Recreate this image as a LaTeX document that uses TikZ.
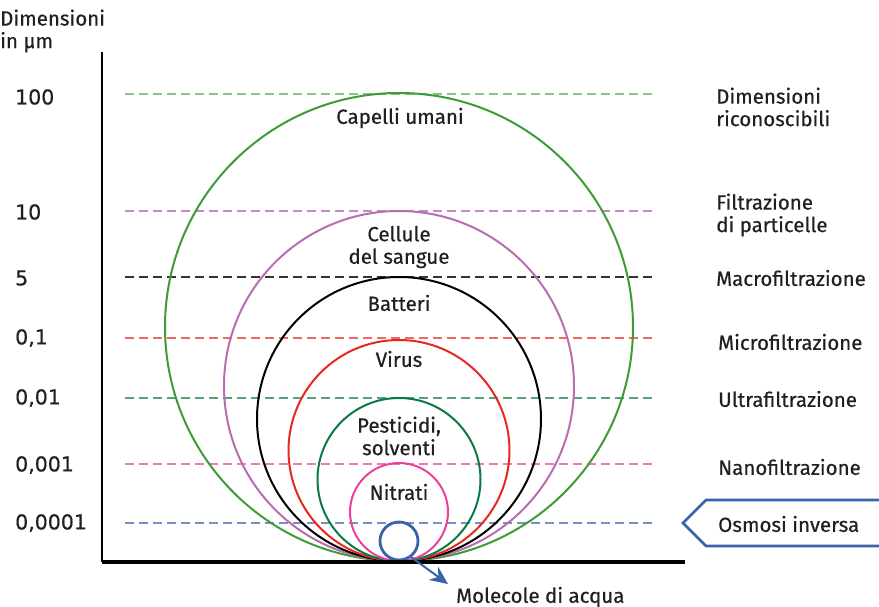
\documentclass[tikz,border=0pt]{standalone}
\usepackage{fontspec}
\setmainfont{Fira Sans}[FakeBold=0.5,UprightFeatures={FakeBold=0.5}]
\newfontfamily\numfont{DejaVu Sans}[FakeBold=0.5,UprightFeatures={FakeBold=0.5}]
\usetikzlibrary{arrows.meta}
\definecolor{txt}{HTML}{231F20}
\definecolor{cgreen}{HTML}{3F9B35}
\definecolor{cviolet}{HTML}{B76DB0}
\definecolor{cred}{HTML}{E8281E}
\definecolor{cdgreen}{HTML}{0A7A45}
\definecolor{cpink}{HTML}{EC3F9A}
\definecolor{cblue}{HTML}{3A62A8}
\begin{document}
\begin{tikzpicture}[x=1pt,y=-1pt,
  lab/.style={font=\fontsize{20.5}{22.5}\selectfont, text=txt, inner sep=0pt},
  llab/.style={lab, anchor=west, align=left},
  nlab/.style={llab, font=\numfont\fontsize{20.5}{22.5}\selectfont},
  clab/.style={lab, align=center},
  circ/.style={line width=2pt},
  dline/.style={line width=1.2pt, dash pattern=on 9pt off 5pt}]
\useasboundingbox (0,0) rectangle (879,607);
% dashed lines
\foreach \y/\c in {94/cgreen!60, 211/cviolet!80, 277/black!80, 338/cred!70, 398/cdgreen!70, 464/cpink!70, 523/cblue!70}
  \draw[dline, draw=\c] (125,\y) -- (652,\y);
% circles
\draw[circ, cgreen] (399,327) circle (234);
\draw[circ, cviolet] (399,386) circle (175);
\draw[circ, black] (399,419) circle (142);
\draw[circ, cred] (399,450.5) circle (110.5);
\draw[circ, cdgreen] (399,479.5) circle (81.5);
\draw[circ, cpink] (399,512) circle (49);
\draw[line width=2.8pt, cblue] (399,541) circle (19);
% axes
\draw[line width=2.2pt, black] (102,52) coordinate (ytop) -- (102,562) coordinate (orig);
\draw[line width=3.5pt, black] (orig) -- (685,562) coordinate (xend);
% arrow
\coordinate (a0) at (411,557);
\coordinate (a1) at (448,584);
\node[lab, anchor=west] (mol) at (456,597) {Molecole di acqua};
\draw[line width=2pt, cblue, -{Stealth[length=18pt,width=16pt,inset=6pt]}] (a0) -- (a1);
% pointer shape
\coordinate (p0) at (683,523);
\draw[line width=2.8pt, cblue, line join=miter] (885,500) -- (706,500) -- (p0) -- (706,546) -- (885,546);
% left labels
\node[llab] (dim) at (0,31) {Dimensioni\\in µm};
\node[nlab] (v1) at (15,97) {100};
\node[nlab] (v2) at (15,212) {10};
\node[nlab] (v3) at (15,278) {5};
\node[nlab] (v4) at (15,338) {0,1};
\node[nlab] (v5) at (15,398) {0,01};
\node[nlab] (v6) at (15,465) {0,001};
\node[nlab] (v7) at (15,523) {0,0001};
% right labels
\node[llab] (r1) at (716,107) {Dimensioni\\riconoscibili};
\node[llab] (r2) at (716,215) {Filtrazione\\di particelle};
\node[llab] (r3) at (716,278) {Macrofiltrazione};
\node[llab] (r4) at (718,342) {Microfiltrazione};
\node[llab] (r5) at (718,399) {Ultrafiltrazione};
\node[llab] (r6) at (718,467) {Nanofiltrazione};
\node[llab] (r7) at (718,524) {Osmosi inversa};
% circle labels
\node[clab] (l1) at (400,118) {Capelli umani};
\node[clab] (l2) at (399,247) {Cellule\\del sangue};
\node[clab] (l3) at (399,303) {Batteri};
\node[clab] (l4) at (399,359) {Virus};
\node[clab] (l5) at (399,436) {Pesticidi,\\solventi};
\node[clab] (l6) at (399,492) {Nitrati};
\end{tikzpicture}
\end{document}
